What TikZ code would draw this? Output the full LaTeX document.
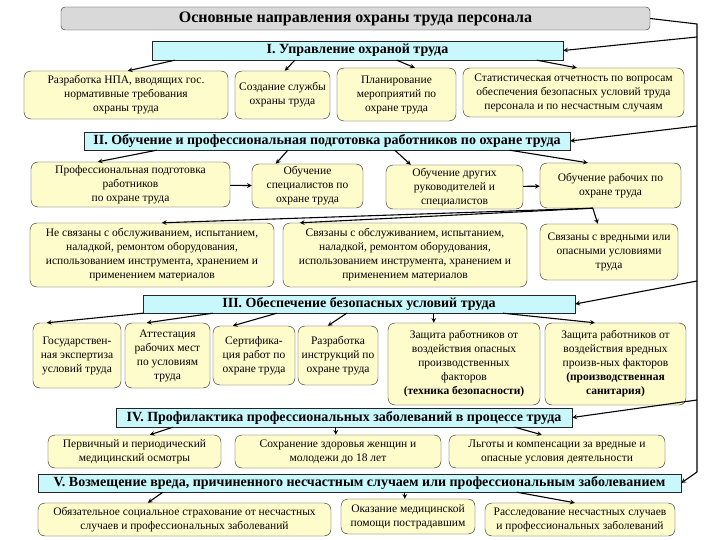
\documentclass[tikz,border=0pt]{standalone}
\usepackage{fontspec}
\setmainfont{Liberation Serif}
\usetikzlibrary{arrows, calc}
\definecolor{boxfill}{HTML}{FFFCCC}
\definecolor{headfill}{HTML}{C8F8FC}
\definecolor{titlefill}{HTML}{D9D9D9}

\begin{document}
\begin{tikzpicture}[x=1pt,y=-1pt,
				box/.style={draw=black!85,fill=boxfill,rounded corners=7pt,align=center,inner sep=1pt,font=\fontsize{11.5}{14}\selectfont},
				head/.style={draw=black!85,fill=headfill,align=center,inner sep=1pt,font=\fontsize{14}{15}\selectfont\bfseries},
				arr/.style={->,>=stealth,line width=1.1pt},
				link/.style={line width=1.1pt}
			]
			\useasboundingbox[fill=white] (0,0) rectangle (720,540);
			\node[draw=black!85,fill=titlefill,rounded corners=4pt,minimum width=589pt,minimum height=23pt,font=\fontsize{16}{18}\selectfont\bfseries] (title) at (355.5,18.5) {Основные направления охраны труда персонала};
			\node[head,minimum width=411pt,minimum height=19pt] (sec1) at (357.5,50.5) {I. Управление охраной труда};
			\node[box,minimum width=204pt,minimum height=48pt] (npa) at (126,95) {Разработка НПА, вводящих гос.\\нормативные требования\\охраны труда};
			\node[box,minimum width=95pt,minimum height=48pt] (service) at (282.5,95) {Создание службы\\охраны труда};
			\node[box,minimum width=119pt,minimum height=53pt] (plan) at (396.5,94.5) {Планирование\\мероприятий по\\охране труда};
			\node[box,minimum width=221pt,minimum height=49pt] (stats) at (573.5,92.5) {Статистическая отчетность по вопросам\\обеспечения безопасных условий труда\\персонала и по несчастным случаям};
			\node[head,minimum width=486pt,minimum height=18pt] (sec2) at (327,141) {II. Обучение и профессиональная подготовка работников по охране труда};
			\node[box,minimum width=199pt,minimum height=45pt] (trprof) at (130.5,184.5) {Профессиональная подготовка\\работников\\по охране труда};
			\node[box,minimum width=111pt,minimum height=44pt] (trspec) at (307.5,186) {Обучение\\специалистов по\\охране труда};
			\node[box,minimum width=137pt,minimum height=44pt] (trman) at (454.5,187) {Обучение других\\руководителей и\\специалистов};
			\node[box,minimum width=141pt,minimum height=45pt] (trwork) at (610.5,185.5) {Обучение рабочих по\\охране труда};
			\node[box,minimum width=244pt,minimum height=64pt] (notrel) at (152,255) {Не связаны с обслуживанием, испытанием,\\наладкой, ремонтом оборудования,\\использованием инструмента, хранением и\\применением материалов};
			\node[box,minimum width=244pt,minimum height=64pt] (rel) at (405,255) {Связаны с обслуживанием, испытанием,\\наладкой, ремонтом оборудования,\\использованием инструмента, хранением и\\применением материалов};
			\node[box,minimum width=138pt,minimum height=56pt] (harm) at (609,252) {Связаны с вредными или\\опасными условиями\\труда};
			\node[head,minimum width=432pt,minimum height=18pt] (sec3) at (359,304) {III. Обеспечение безопасных условий труда};
			\node[box,minimum width=88pt,minimum height=65pt] (expert) at (77,355.5) {Государствен-\\ная экспертиза\\условий труда};
			\node[box,minimum width=85pt,minimum height=65pt] (attest) at (167.5,355.5) {Аттестация\\рабочих мест\\по условиям\\труда};
			\node[box,minimum width=82pt,minimum height=59pt] (cert) at (254,355.5) {Сертифика-\\ция работ по\\охране труда};
			\node[box,minimum width=80pt,minimum height=59pt] (instr) at (338,355.5) {Разработка\\инструкций по\\охране труда};
			\node[box,minimum width=152pt,minimum height=82pt] (safety) at (464,364) {Защита работников от\\воздействия опасных\\производственных\\факторов\\\textbf{(техника безопасности)}};
			\node[box,minimum width=141pt,minimum height=82pt] (sanit) at (615.5,364) {Защита работников от\\воздействия вредных\\произв-ных факторов\\\textbf{(производственная}\\\textbf{санитария)}};
			\node[head,minimum width=456pt,minimum height=19pt] (sec4) at (344,417.5) {IV. Профилактика профессиональных заболеваний в процессе труда};
			\node[box,minimum width=173pt,minimum height=33pt] (medexam) at (134.5,451.5) {Первичный и периодический\\медицинский осмотры};
			\node[box,minimum width=206pt,minimum height=33pt] (health) at (338,451.5) {Сохранение здоровья женщин и\\молодежи до 18 лет};
			\node[box,minimum width=216pt,minimum height=33pt] (benefit) at (557,451.5) {Льготы и компенсации за вредные и\\опасные условия деятельности};
			\node[head,minimum width=643pt,minimum height=18pt] (sec5) at (359.5,483) {V. Возмещение вреда, причиненного несчастным случаем или профессиональным заболеванием};
			\node[box,minimum width=293pt,minimum height=33pt] (insur) at (184.5,519.5) {Обязательное социальное страхование от несчастных\\случаев и профессиональных заболеваний};
			\node[box,minimum width=134pt,minimum height=35pt] (medhelp) at (408,516.5) {Оказание медицинской\\помощи пострадавшим};
			\node[box,minimum width=190pt,minimum height=33pt] (invest) at (580,519.5) {Расследование несчастных случаев\\и профессиональных заболеваний};
			\coordinate (vtop) at (697,24);
			\coordinate (v1) at (697,37);
			\coordinate (v2) at (697,126);
			\coordinate (v3) at (697,281);
			\coordinate (v4) at (697,400);
			\coordinate (vbot) at (697,472);
			\draw[link] (title.east) -- (vtop) -- (vbot);
			\draw[arr] (v1) -- (sec1.east);
			\draw[arr] (v2) -- (sec2.east);
			\draw[arr] (v3) -- (sec3.east);
			\draw[arr] (v4) -- (sec4.east);
			\draw[arr] (vbot) -- (sec5.east);
			\draw[arr] ($(sec1.south west)+(23,0)$) -- ($(npa.north west)+(104,0)$);
			\draw[arr] ($(sec1.south west)+(143,0)$) -- ($(service.north west)+(50,0)$);
			\draw[arr] ($(sec1.south west)+(245,0)$) -- ($(plan.north west)+(78,0)$);
			\draw[arr] ($(sec1.south west)+(385,0)$) -- ($(stats.north west)+(114,0)$);
			\draw[arr] ($(sec2.south west)+(73,0)$) -- ($(trprof.north west)+(67,0)$);
			\draw[arr] ($(sec2.south west)+(204,0)$) -- ($(trspec.north west)+(24,0)$);
			\draw[arr] ($(sec2.south west)+(311,0)$) -- ($(trman.north west)+(25,0)$);
			\draw[arr] ($(sec2.south west)+(426,0)$) -- ($(trwork.north west)+(48,0)$);
			\draw[arr] (trprof) -- (trspec);
			\draw[arr] (trman) -- (trwork);
			\draw[arr] ($(trwork.south west)+(53,0)$) -- ($(notrel.north west)+(132,0)$);
			\draw[arr] ($(trwork.south west)+(53,0)$) -- ($(rel.north west)+(17,0)$);
			\draw[arr] ($(trwork.south west)+(53,0)$) -- ($(harm.north west)+(58,0)$);
			\draw[arr] (sec3.south west) -- ($(expert.north west)+(14,0)$);
			\draw[arr] ($(sec3.south west)+(70,0)$) -- ($(attest.north west)+(22,0)$);
			\draw[arr] ($(sec3.south west)+(134,0)$) -- ($(cert.north west)+(20,0)$);
			\draw[arr] ($(sec3.south west)+(204,0)$) -- ($(instr.north west)+(30,0)$);
			\draw[arr] ($(sec3.south west)+(291,0)$) -- ($(safety.north west)+(46,0)$);
			\draw[arr] ($(sec3.south west)+(360,0)$) -- ($(sanit.north west)+(50,0)$);
			\draw[arr] ($(sec4.south west)+(57,0)$) -- ($(medexam.north west)+(102,0)$);
			\draw[arr] ($(sec4.south west)+(220,0)$) -- ($(health.north west)+(101,0)$);
			\draw[arr] ($(sec4.south west)+(399,0)$) -- ($(benefit.north west)+(93,0)$);
			\draw[arr] ($(sec5.south west)+(125,0)$) -- ($(insur.north west)+(110,0)$);
			\draw[arr] ($(sec5.south west)+(367,0)$) -- ($(medhelp.north west)+(64,0)$);
			\draw[arr] ($(sec5.south west)+(479,0)$) -- ($(invest.north west)+(90,0)$);
			\end{tikzpicture}
\end{document}
